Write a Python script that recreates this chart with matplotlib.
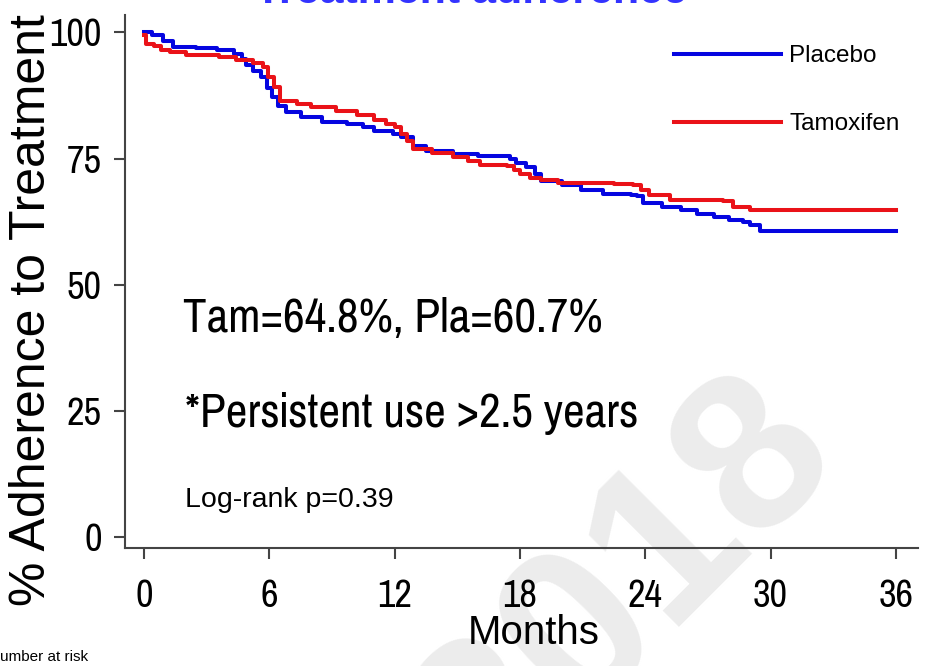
import matplotlib
matplotlib.use("Agg")
import matplotlib.pyplot as plt

# Kaplan-Meier style adherence curves
months_pla = [0, 0.4, 0.9, 1.4, 2.5, 3.5, 4.3, 4.7, 4.9, 5.2,
              5.6, 5.9, 6.1, 6.4, 6.8, 7.5, 8.5, 9.7, 10.5, 11.0,
              11.9, 12.3, 12.9, 13.5, 14.8, 16.0, 17.5, 17.8, 18.3, 18.7,
              19.0, 20.0, 20.9, 22.0, 23.3, 23.6, 23.9, 24.8, 25.7, 26.5,
              27.3, 28.0, 28.7, 29.0, 29.5, 36]
adherence_pla = [100, 99.4, 98.3, 97.1, 96.9, 96.6, 95.8, 94.8, 93.5, 92.3,
                 91.2, 89.0, 87.2, 85.5, 84.2, 83.2, 82.2, 81.8, 81.2, 80.5,
                 79.9, 79.3, 77.5, 76.6, 76.0, 75.6, 75.0, 74.2, 73.3, 72.0,
                 70.5, 69.7, 68.8, 68.0, 67.8, 67.5, 66.3, 65.4, 64.8, 64.1,
                 63.5, 62.9, 62.4, 61.8, 60.7, 60.7]

months_tam = [0, 0.1, 0.45, 0.8, 1.25, 2.0, 3.6, 4.4, 5.2, 5.7,
              5.95, 6.2, 6.5, 7.3, 8.0, 9.2, 10.2, 11.0, 11.6, 12.0,
              12.3, 12.6, 12.9, 13.8, 14.8, 15.5, 16.1, 17.4, 17.7, 18.0,
              18.5, 19.0, 19.8, 22.5, 23.4, 23.8, 24.2, 25.2, 27.7, 28.2,
              29.0, 36]
adherence_tam = [99.4, 97.8, 97.4, 96.6, 96.1, 95.6, 95.1, 94.5, 93.9, 93.1,
                 91.2, 89.2, 86.5, 85.9, 85.2, 84.4, 83.6, 82.7, 81.9, 81.2,
                 79.9, 78.4, 77.0, 76.2, 75.3, 74.5, 73.7, 73.5, 72.8, 72.0,
                 71.2, 70.7, 70.2, 70.0, 69.7, 68.7, 67.7, 66.7, 66.5, 65.4,
                 64.8, 64.8]

x_ticks = [0, 6, 12, 18, 24, 30, 36]
y_ticks = [0, 25, 50, 75, 100]

NARROW = ['Pragati Narrow', 'Liberation Sans', 'DejaVu Sans']
REGULAR = ['Liberation Sans', 'DejaVu Sans']
plt.rcParams['font.family'] = NARROW

fig = plt.figure(figsize=(9.27, 6.66), dpi=100)
ax = fig.add_axes([0.135, 0.177, 0.855, 0.8])
ax.set_facecolor('none')

# faint watermark behind everything
fig.text(0.676, 0.115, "2018", fontsize=160, fontweight='bold', color='#ececec',
         rotation=45, ha='center', va='center', family=REGULAR, zorder=-5)

ax.plot(months_pla, adherence_pla, drawstyle='steps-post', color='#0505e0', lw=2.9, label='Placebo')
ax.plot(months_tam, adherence_tam, drawstyle='steps-post', color='#ea1218', lw=2.9, label='Tamoxifen')

ax.set_xlim(-0.91, 37.05)
ax.set_ylim(-2.2, 103.4)
ax.set_xticks(x_ticks)
ax.set_yticks(y_ticks)
ax.tick_params(axis='both', labelsize=30, length=8, width=1.5, color='#444444')
ax.tick_params(axis='x', pad=14)
ax.tick_params(axis='y', pad=9)
for s in ['top', 'right']:
    ax.spines[s].set_visible(False)
for s in ['left', 'bottom']:
    ax.spines[s].set_color('#444444')
    ax.spines[s].set_linewidth(1.5)

ax.set_xlabel("Months", fontsize=29, family=REGULAR)
ax.xaxis.set_label_coords(0.516, -0.124)
fig.text(32 / 927, 0.5345, "% Adherence to Treatment", fontsize=36, family=REGULAR,
         rotation=90, ha='center', va='center')

ax.text(1.87, 40.6, "Tam=64.8%, Pla=60.7%", fontsize=37, va='baseline')
ax.text(1.96, 21.8, "*Persistent use >2.5 years", fontsize=37, va='baseline')
ax.text(1.96, 5.9, "Log-rank p=0.39", fontsize=20.5, va='baseline', family=REGULAR)

ax.legend(loc='upper left', frameon=False, prop={'family': REGULAR, 'size': 17.5},
          handlelength=4.4, labelspacing=1.9, handletextpad=0.34,
          borderpad=0, borderaxespad=0,
          bbox_to_anchor=(0.727, 0.932), bbox_transform=fig.transFigure)

fig.text(471 / 927, 0.995, "Treatment adherence", fontsize=31, fontweight='bold',
         color='#3333ff', ha='center', va='baseline', family=REGULAR)
fig.text(-0.012, 0.003, "Number at risk", fontsize=11, ha='left', va='bottom', family=REGULAR)

fig.savefig("out.png", dpi=100)
